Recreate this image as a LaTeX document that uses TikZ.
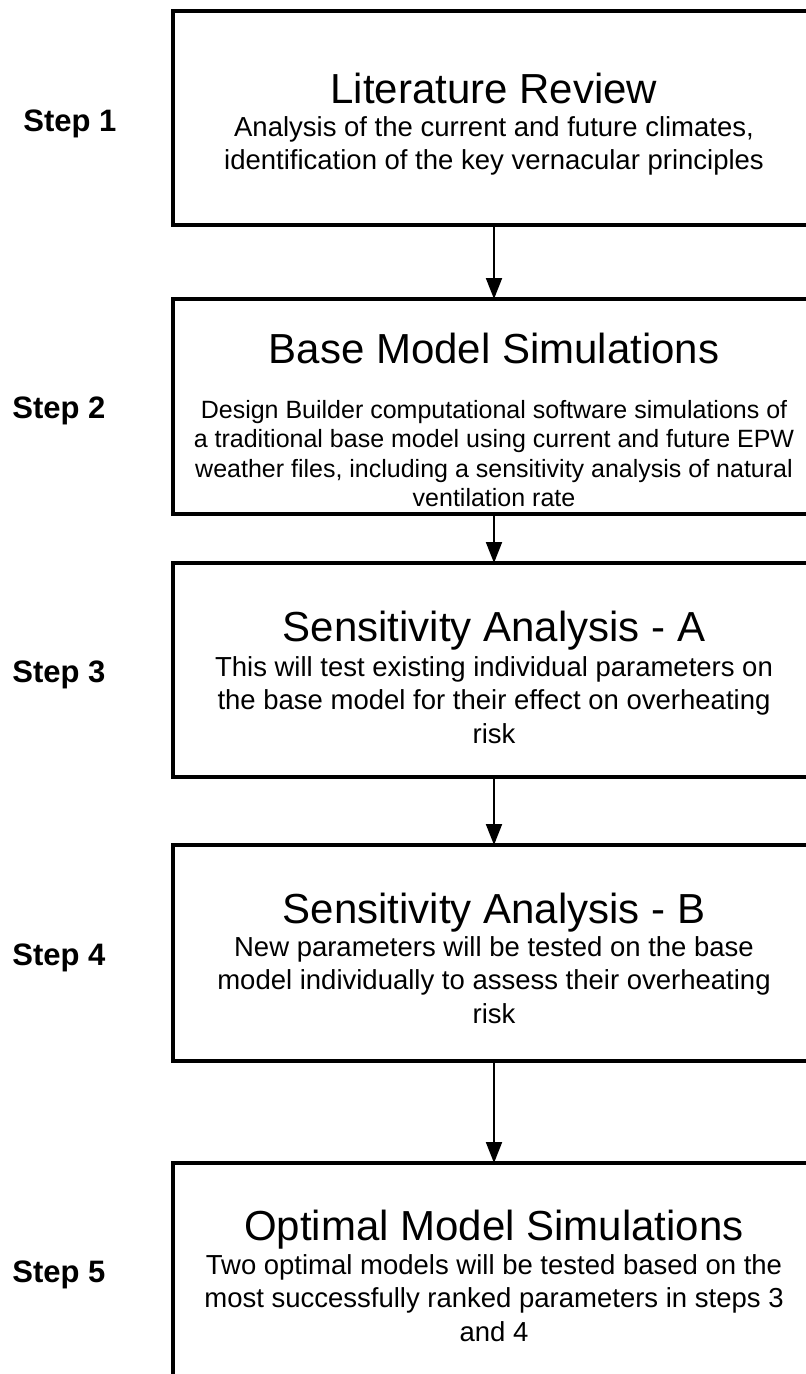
\documentclass[tikz,border=0pt]{standalone}
\usepackage{fontspec}
\setmainfont{Liberation Sans}
\usetikzlibrary{arrows.meta}
\begin{document}
\begin{tikzpicture}[x=1pt,y=-1pt,
  box/.style={draw=black, line width=4pt, minimum width=642pt, inner sep=0pt, outer sep=0pt, anchor=north west},
  titletext/.style={anchor=base, inner sep=0pt, font=\fontsize{42}{50}\selectfont},
  bodytext/.style={anchor=base, inner sep=0pt, font=\fontsize{27.5}{33.5}\selectfont},
  smallbody/.style={anchor=base, inner sep=0pt, font=\fontsize{25}{29.5}\selectfont},
  steplabel/.style={anchor=base, inner sep=0pt, font=\fontsize{31}{36}\selectfont\bfseries},
  flow/.style={draw=black, line width=2pt, -{Triangle[length=21pt,width=16pt]}}]
\useasboundingbox (0,0) rectangle (806,1374);
\clip (0,0) rectangle (806,1374);
\fill[white] (0,0) rectangle (806,1374);

\node[box, minimum height=214pt] (b1) at (173,11) {};
\node[box, minimum height=215pt] (b2) at (173,299) {};
\node[box, minimum height=214pt] (b3) at (173,563) {};
\node[box, minimum height=216pt] (b4) at (173,845) {};
\node[box, minimum height=214pt] (b5) at (173,1163) {};

\node[titletext] (t1) at (494,103) {Literature Review};
\node[bodytext] (d1) at (494,136) {\begin{tabular}[t]{@{}c@{}}Analysis of the current and future climates,\\identification of the key vernacular principles\end{tabular}};

\node[titletext] (t2) at (494,363) {Base Model Simulations};
\node[smallbody] (d2) at (494,418) {\begin{tabular}[t]{@{}c@{}}Design Builder computational software simulations of\\a traditional base model using current and future EPW\\weather files, including a sensitivity analysis of natural\\ventilation rate\end{tabular}};

\node[titletext] (t3) at (494,641) {Sensitivity Analysis - A};
\node[bodytext] (d3) at (494,676) {\begin{tabular}[t]{@{}c@{}}This will test existing individual parameters on\\the base model for their effect on overheating\\risk\end{tabular}};

\node[titletext] (t4) at (494,923) {Sensitivity Analysis - B};
\node[bodytext] (d4) at (494,956) {\begin{tabular}[t]{@{}c@{}}New parameters will be tested on the base\\model individually to assess their overheating\\risk\end{tabular}};

\node[titletext] (t5) at (494,1240) {Optimal Model Simulations};
\node[bodytext] (d5) at (494,1274) {\begin{tabular}[t]{@{}c@{}}Two optimal models will be tested based on the\\most successfully ranked parameters in steps 3\\and 4\end{tabular}};

\node[steplabel] (s1) at (70,131) {Step 1};
\node[steplabel] (s2) at (59,418) {Step 2};
\node[steplabel] (s3) at (59,682) {Step 3};
\node[steplabel] (s4) at (59,965) {Step 4};
\node[steplabel] (s5) at (59,1282) {Step 5};

\draw[flow] (b1.south -| 494,0) -- (b2.north -| 494,0);
\draw[flow] (b2.south -| 494,0) -- (b3.north -| 494,0);
\draw[flow] (b3.south -| 494,0) -- (b4.north -| 494,0);
\draw[flow] (b4.south -| 494,0) -- (b5.north -| 494,0);
\end{tikzpicture}
\end{document}
